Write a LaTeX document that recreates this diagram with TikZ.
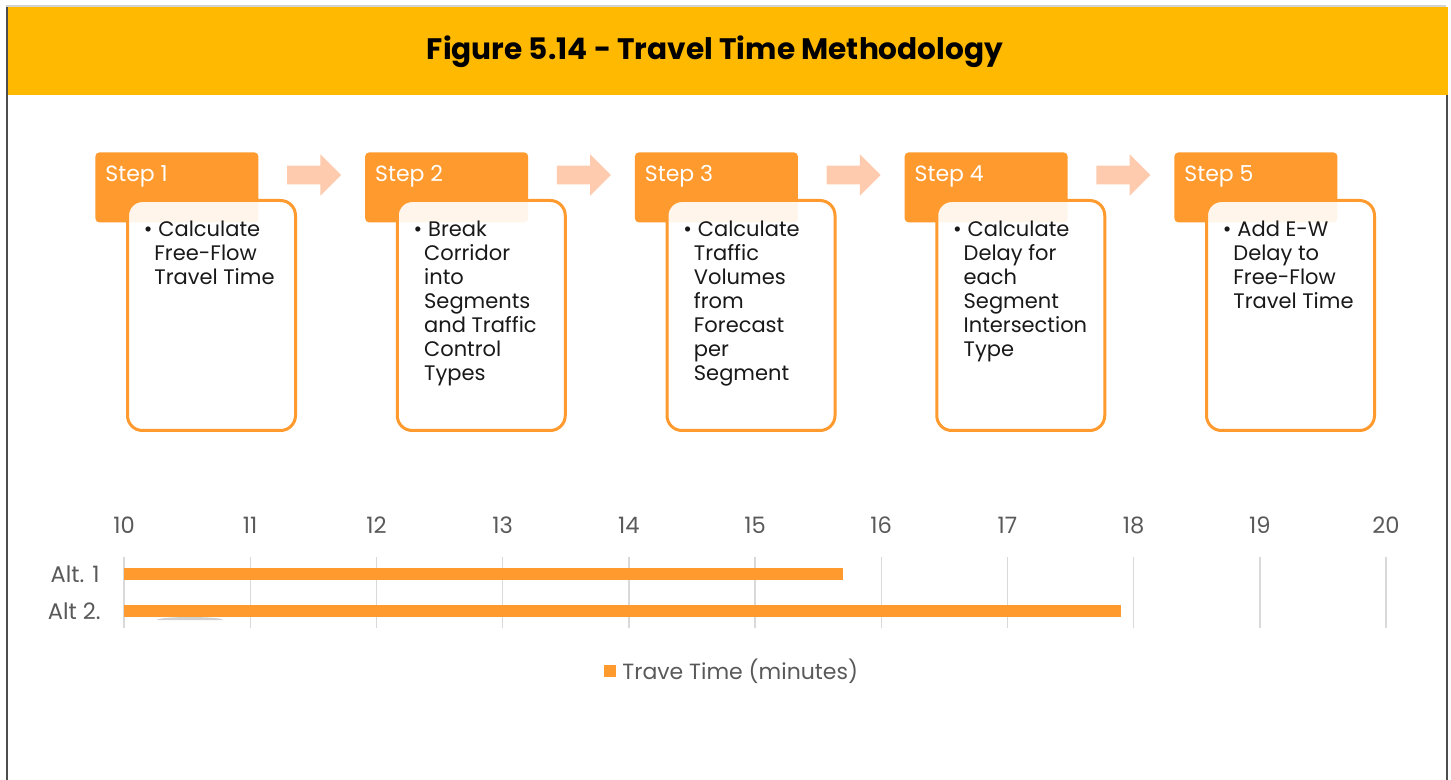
\documentclass[tikz,border=0pt]{standalone}
\usepackage{fontspec}
\setmainfont{Poppins}
\usetikzlibrary{positioning,shapes.arrows,calc}
\definecolor{bandyellow}{HTML}{FFB900}
\definecolor{steporange}{HTML}{FF9A2E}
\definecolor{arrowpeach}{HTML}{FFCBAE}
\definecolor{gridgray}{HTML}{D9D9D9}
\definecolor{axisgray}{HTML}{595959}
\definecolor{framegray}{HTML}{4D4D4D}
\newcommand{\stepbullet}{\makebox[0pt][r]{\textbullet\hspace{1pt}}\hspace{2pt}}

\begin{document}
\begin{tikzpicture}[x=0.5pt, y=-0.5pt,
    steptab/.style={fill=steporange, rounded corners=2pt, minimum width=81.5pt,
                minimum height=35pt, inner sep=0pt, anchor=north west},
    stepbody/.style={draw=steporange, line width=1.5pt, fill=white, fill opacity=0.9,
                rounded corners=7.5pt, minimum width=84pt, minimum height=115pt,
                inner sep=0pt, anchor=north west},
    steplbl/.style={font=\fontsize{11}{13}\selectfont, text=white, inner sep=0pt, anchor=west},
    bodytxt/.style={font=\fontsize{10.5}{12}\selectfont, text=black!90, align=left,
                inner sep=0pt, anchor=north west},
    fwdarrow/.style={single arrow, fill=arrowpeach, inner xsep=0pt, inner ysep=4.5pt,
                minimum height=27pt, single arrow head extend=5.75pt},
    gridline/.style={gridgray, line width=0.7pt},
    axislbl/.style={font=\fontsize{11.3}{13}\selectfont, text=axisgray, inner sep=0pt},
]
\useasboundingbox (0,0) rectangle (1451,780);
% frame and title band
\draw[gray!35, line width=1pt] (6,6.5) -- (1446,6.5);
\fill[bandyellow] (7.5,7) rectangle (1448,95);
\draw[framegray, line width=1pt] (6.5,7) -- (6.5,780);
\draw[framegray, line width=1pt] (1446.5,95) -- (1446.5,780);
\node[font=\bfseries\fontsize{14.8}{17}\selectfont] (title) at (715,52)
    {Figure 5.14 - Travel Time Methodology};
% steps
\foreach \i/\txt in {1/{Calculate\\Free-Flow\\Travel Time},
    2/{Break\\Corridor\\into\\Segments\\and Traffic\\Control\\Types},
    3/{Calculate\\Traffic\\Volumes\\from\\Forecast\\per\\Segment},
    4/{Calculate\\Delay for\\each\\Segment\\Intersection\\Type},
    5/{Add E-W\\Delay to\\Free-Flow\\Travel Time}} {
    \pgfmathsetmacro\xo{95+269.75*(\i-1)}
    \node[steptab] (step\i) at (\xo,152) {};
    \node[steplbl] (lbl\i) at (\xo+10,176.5) {Step \i};
    \node[stepbody] (body\i) at (\xo+31,199) {};
    \node[bodytxt] (txt\i) at (\xo+59,221) {\stepbullet\txt};
}
% arrows between steps
\foreach \i in {1,...,4} {
    \pgfmathsetmacro\xo{95+269.75*(\i-1)}
    \node[fwdarrow] (arr\i) at (\xo+214.5,175) {};
}
% chart
\foreach \v in {10,...,20} {
    \pgfmathsetmacro\gx{124+126.2*(\v-10)}
    \draw[gridline] (\gx,557) -- (\gx,628);
    \node[axislbl] (tick\v) at (\gx,525) {\v};
}
\fill[gray!35] (157,620) arc[start angle=180, end angle=360, x radius=33, y radius=3];
\fill[steporange] (124,568) rectangle (843,580);
\fill[steporange] (124,605) rectangle (1121,617);
\node[axislbl, anchor=east] (alt1) at (100,574) {Alt. 1};
\node[axislbl, anchor=east] (alt2) at (101,611) {Alt 2.};
% legend
\node[fill=steporange, minimum size=6pt, inner sep=0pt] (key) at (610,671) {};
\node[axislbl, font=\fontsize{11}{13}\selectfont, anchor=west] (keylbl) at (622,671)
    {Trave Time (minutes)};
\end{tikzpicture}
\end{document}
